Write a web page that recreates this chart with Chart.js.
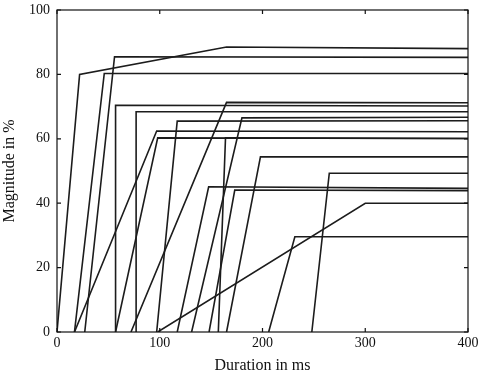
<!DOCTYPE html>
<html>
<head>
<meta charset="utf-8">
<script src="https://cdn.jsdelivr.net/npm/chart.js@4"></script>
<style>
    html, body { margin: 0; padding: 0; background: #fff; }
    .wrap { width: 484px; height: 374px; }
</style>
</head>
<body>
<div class="wrap"><canvas class="chart1"></canvas></div>
<script>
// each trace: times (ms) and magnitudes (%) of its corner points
const traceTimes = [
    [0, 22, 165, 400],
    [27, 56, 400],
    [17, 46, 400],
    [72, 165, 400],
    [57, 57, 400],
    [77, 77, 400],
    [131, 180, 400],
    [97, 117, 400],
    [17, 97, 400],
    [57, 98, 400],
    [157, 164, 400],
    [165, 198, 400],
    [248, 265, 400],
    [117, 147.6, 400],
    [148, 173, 400],
    [98, 300, 400],
    [206, 231.5, 400]
];
const traceMagnitudes = [
    [0, 80, 88.5, 88],
    [0, 85.5, 85.3],
    [0, 80.3, 80.3],
    [0, 71.3, 71.2],
    [0, 70.4, 70.2],
    [0, 68.4, 68.4],
    [0, 66.5, 66.7],
    [0, 65.5, 65.6],
    [0, 62.4, 62.2],
    [0, 60.3, 60.1],
    [0, 60.3, 60.1],
    [0, 54.4, 54.4],
    [0, 49.3, 49.3],
    [0, 45.1, 44.6],
    [0, 44.1, 43.9],
    [0, 40, 40],
    [0, 29.6, 29.6]
];
const xTicks = [0, 100, 200, 300, 400];
const yTicks = [0, 20, 40, 60, 80, 100];

const datasets = traceTimes.map(function (times, i) {
    return {
        data: times.map(function (t, j) { return { x: t, y: traceMagnitudes[i][j] }; }),
        borderColor: "#1c1c1c",
        borderWidth: 1.6,
        pointRadius: 0,
        tension: 0,
        fill: false
    };
});

// box round the plot with inward tick marks
const frame = {
    id: "frame",
    afterDatasetsDraw(chart) {
        const ctx = chart.ctx;
        const a = chart.chartArea;
        const x = chart.scales.x, y = chart.scales.y;
        ctx.save();
        ctx.strokeStyle = "#111";
        ctx.lineWidth = 1.2;
        ctx.strokeRect(a.left, a.top, a.right - a.left, a.bottom - a.top);
        ctx.beginPath();
        x.ticks.forEach(function (t) {
            const px = x.getPixelForValue(t.value);
            ctx.moveTo(px, a.bottom); ctx.lineTo(px, a.bottom - 4);
            ctx.moveTo(px, a.top); ctx.lineTo(px, a.top + 4);
        });
        y.ticks.forEach(function (t) {
            const py = y.getPixelForValue(t.value);
            ctx.moveTo(a.left, py); ctx.lineTo(a.left + 4, py);
            ctx.moveTo(a.right, py); ctx.lineTo(a.right - 4, py);
        });
        ctx.stroke();
        ctx.restore();
    }
};

const tickFont = { family: "'Liberation Serif', serif", size: 14 };
const titleFont = { family: "'Liberation Serif', serif", size: 16, lineHeight: 1.0 };

new Chart(document.querySelector(".chart1"), {
    type: "line",
    data: { datasets: datasets },
    options: {
        responsive: true,
        maintainAspectRatio: false,
        animation: false,
        layout: { padding: { top: 10, right: 16, left: 0, bottom: 0 } },
        plugins: { legend: { display: false }, tooltip: { enabled: false } },
        scales: {
            x: {
                type: "linear",
                min: 0,
                max: 400,
                afterBuildTicks: function (s) { s.ticks = xTicks.map(function (v) { return { value: v }; }); },
                afterFit: function (s) { s.height = 42; s.paddingLeft = 0; s.paddingRight = 0; },
                grid: { display: false, drawTicks: false },
                border: { display: false },
                ticks: { color: "#111", font: tickFont, padding: 3, maxRotation: 0 },
                title: { display: true, text: "Duration in ms", color: "#111", font: titleFont, padding: { top: 0, bottom: 0 } }
            },
            y: {
                type: "linear",
                min: 0,
                max: 100,
                afterBuildTicks: function (s) { s.ticks = yTicks.map(function (v) { return { value: v }; }); },
                afterFit: function (s) { s.width = 57; s.paddingTop = 0; s.paddingBottom = 0; },
                grid: { display: false, drawTicks: false },
                border: { display: false },
                ticks: { color: "#111", font: tickFont, padding: 7 },
                title: { display: true, text: "Magnitude in %", color: "#111", font: titleFont, padding: { top: 2, bottom: 0 } }
            }
        }
    },
    plugins: [frame]
});
</script>
</body>
</html>
